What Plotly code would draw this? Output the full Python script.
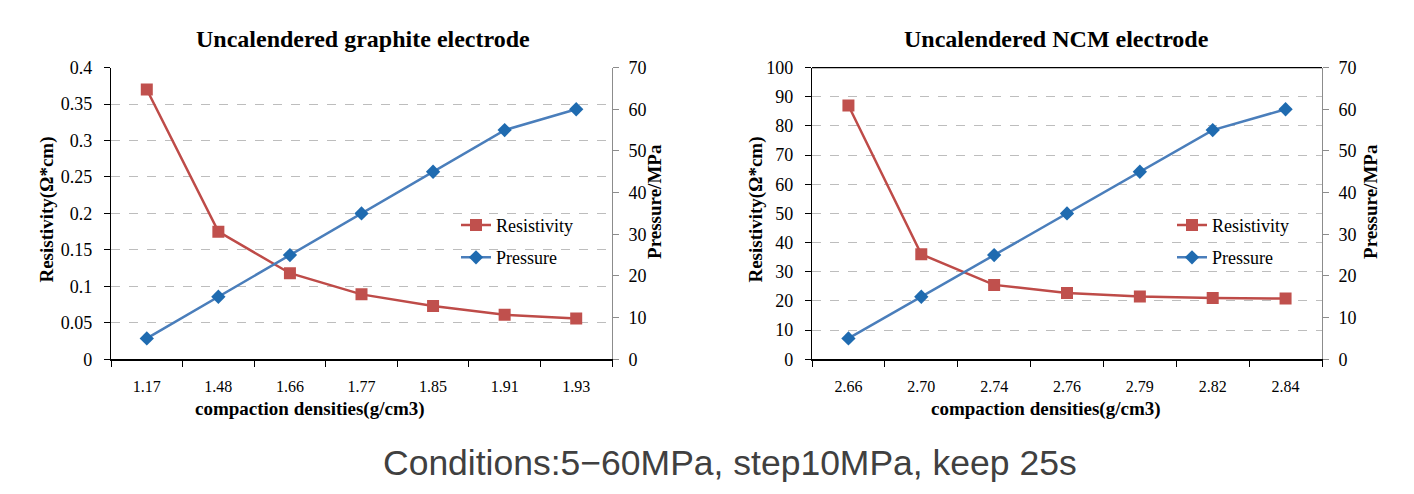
import plotly.graph_objects as go

# ---- data ----
graphite_density = ["1.17", "1.48", "1.66", "1.77", "1.85", "1.91", "1.93"]
graphite_resistivity = [0.370, 0.175, 0.118, 0.089, 0.073, 0.061, 0.056]
graphite_pressure = [5, 15, 25, 35, 45, 55, 60]

ncm_density = ["2.66", "2.70", "2.74", "2.76", "2.79", "2.82", "2.84"]
ncm_resistivity = [87.0, 36.0, 25.5, 22.7, 21.5, 21.0, 20.8]
ncm_pressure = [5, 15, 25, 35, 45, 55, 60]

W, H = 1414, 494
SERIF = "Liberation Serif, Times New Roman, serif"
RED_LINE = "#BE4B48"
RED_MK = "#C0504D"
BLUE_LINE = "#4A7EBB"
BLUE_MK = "#1F6BB0"

def px(x):
    return x / W

def py(y):
    return 1 - y / H

fig = go.Figure()

def add_pair(xs, res, pres, xa, ya_l, ya_r, leg):
    fig.add_trace(go.Scatter(x=xs, y=res, name="Resistivity", legendgroup=leg + "r",
                             xaxis=xa, yaxis=ya_l, mode="lines+markers",
                             line=dict(color=RED_LINE, width=2.5),
                             marker=dict(symbol="square", size=12, color=RED_MK), legend=leg))
    fig.add_trace(go.Scatter(x=xs, y=pres, name="Pressure", legendgroup=leg + "p",
                             xaxis=xa, yaxis=ya_r, mode="lines+markers",
                             line=dict(color=BLUE_LINE, width=2.5),
                             marker=dict(symbol="diamond", size=11, color=BLUE_MK), legend=leg))

add_pair(graphite_density, graphite_resistivity, graphite_pressure, "x", "y", "y2", "legend")
add_pair(ncm_density, ncm_resistivity, ncm_pressure, "x2", "y3", "y4", "legend2")

ydom = [py(364), py(60)]
xtickfont = dict(family=SERIF, size=16, color="#000")
ytickfont = dict(family=SERIF, size=18, color="#000")

def xaxis(dom, anchor):
    return dict(domain=dom, anchor=anchor, type="category", range=[-0.5, 6.5],
                showline=True, linecolor="#000", linewidth=1.5,
                ticks="outside", tickson="boundaries", ticklen=6, tickcolor="#000",
                showgrid=False, tickfont=xtickfont, ticklabelstandoff=12)

def yleft(rng, dt, anchor):
    return dict(domain=ydom, anchor=anchor, range=rng, dtick=dt,
                showline=True, linecolor="#000", linewidth=1.2,
                ticks="outside", ticklen=6, tickcolor="#000",
                showgrid=True, gridcolor="#BDBDBD", griddash="dash", gridwidth=1,
                zeroline=False, tickfont=ytickfont, ticklabelstandoff=8)

def yright(overlay, anchor):
    return dict(domain=ydom, anchor=anchor, overlaying=overlay, side="right",
                range=[0, 70], dtick=10, showline=True, linecolor="#8C8C8C", linewidth=1,
                ticks="outside", ticklen=6, tickcolor="#8C8C8C", showgrid=False,
                zeroline=False, tickfont=ytickfont, ticklabelstandoff=6)

L0, L1 = px(111), px(612)
R0, R1 = px(812), px(1322)

legfont = dict(family=SERIF, size=18, color="#000")
fig.update_layout(
    width=W, height=H, margin=dict(l=0, r=0, t=0, b=0),
    paper_bgcolor="white", plot_bgcolor="white",
    xaxis=xaxis([L0, L1], "y"),
    yaxis=yleft([0, 0.4], 0.05, "x"),
    yaxis2=yright("y", "x"),
    xaxis2=xaxis([R0, R1], "y3"),
    yaxis3=yleft([0, 100], 10, "x2"),
    yaxis4=yright("y3", "x2"),
    legend=dict(x=px(456), y=py(205), xanchor="left", yanchor="top", font=legfont,
                bgcolor="rgba(0,0,0,0)", traceorder="grouped", tracegroupgap=6, itemwidth=30),
    legend2=dict(x=px(1172), y=py(205), xanchor="left", yanchor="top", font=legfont,
                 bgcolor="rgba(0,0,0,0)", traceorder="grouped", tracegroupgap=6, itemwidth=30),
)

bold = dict(family=SERIF, size=19, color="#000")
ann = [
    dict(text="<b>Uncalendered graphite electrode</b>", x=px(363), y=py(30),
         font=dict(family=SERIF, size=24, color="#000")),
    dict(text="<b>Uncalendered NCM electrode</b>", x=px(1056), y=py(30),
         font=dict(family=SERIF, size=24, color="#000")),
    dict(text="<b>compaction densities(g/cm3)</b>", x=px(310), y=py(416), font=bold),
    dict(text="<b>compaction densities(g/cm3)</b>", x=px(1046), y=py(416), font=bold),
    dict(text="<b>Resistivity(Ω*cm)</b>", x=px(47), y=py(208), textangle=-90, font=bold),
    dict(text="<b>Pressure/MPa</b>", x=px(655), y=py(200), textangle=-90, font=bold),
    dict(text="<b>Resistivity(Ω*cm)</b>", x=px(756), y=py(208), textangle=-90, font=bold),
    dict(text="<b>Pressure/MPa</b>", x=px(1371), y=py(200), textangle=-90, font=bold),
    dict(text="Conditions:5\u221260MPa, step10MPa, keep 25s", x=px(730), y=py(472),
         font=dict(family="Liberation Sans, Arial, sans-serif", size=35.5, color="#404040")),
]
for a in ann:
    a.update(xref="paper", yref="paper", showarrow=False, xanchor="center", yanchor="middle")
fig.update_layout(annotations=ann)

# solid top border on right chart
fig.add_shape(type="line", xref="x2 domain", yref="y3 domain", x0=0, x1=1, y0=1, y1=1,
              line=dict(color="#000", width=1.2))

fig.write_html("out.html")
